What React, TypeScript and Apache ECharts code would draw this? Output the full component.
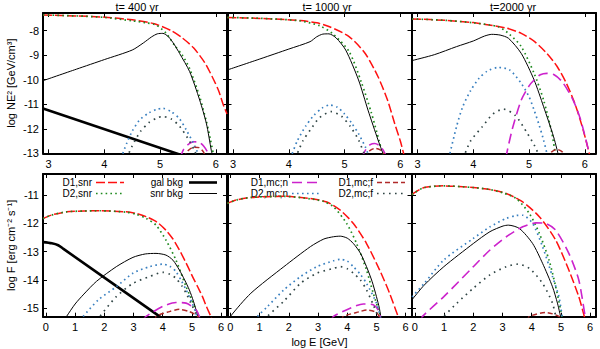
import React, { useEffect, useRef } from 'react';
import * as echarts from 'echarts';

type Pt = [number, number];

// ---------- axis ranges / labels ----------
const panelTitles = ['t= 400 yr', 't= 1000 yr', 't=2000 yr'];
const topXRange = [2.9, 6.2];
const topYRange = [-13, -7.28];
const botXRange = [-0.1, 6.2];
const botYRange = [-15.3, -10.25];
const topYName = 'log NE² [GeV/cm³]';
const botYName = 'log F [erg cm⁻² s⁻¹]';
const botXName = 'log E [GeV]';
const seriesNames = ['D1,snr', 'D2,snr', 'gal bkg', 'snr bkg', 'D1,mc;n', 'D2,mc;n', 'D1,mc;f', 'D2,mc;f'];

// ---------- top row: log NE^2 ----------
const NE400_D1snr: Pt[] = [[2.9,-7.36],[3.5,-7.4],[4.0,-7.45],[4.5,-7.56],[4.9,-7.72],[5.2,-8.0],[5.4,-8.3],[5.6,-8.7],[5.8,-9.3],[5.95,-9.95],[6.05,-10.45],[6.13,-11.0],[6.2,-11.4]];
const NE400_D2snr: Pt[] = [[2.9,-7.36],[3.5,-7.4],[4.0,-7.46],[4.5,-7.6],[4.75,-7.68],[4.93,-7.77],[5.11,-8.11],[5.26,-8.6],[5.4,-9.0],[5.53,-9.55],[5.71,-10.7],[5.83,-11.7],[5.9,-12.4],[5.97,-13.2]];
const NE400_galBkg: Pt[] = [[2.9,-11.17],[6.2,-13.7]];
const NE400_snrBkg: Pt[] = [[2.9,-10.04],[3.5,-9.57],[4.0,-9.18],[4.5,-8.79],[4.7,-8.5],[4.85,-8.25],[4.95,-8.13],[5.05,-8.11],[5.15,-8.25],[5.25,-8.55],[5.35,-8.93],[5.53,-9.67],[5.71,-10.83],[5.83,-11.78],[5.92,-12.9],[5.95,-13.2]];
const NE400_D1mcn: Pt[] = [[5.36,-13.2],[5.42,-12.85],[5.5,-12.65],[5.6,-12.53],[5.7,-12.55],[5.78,-12.7],[5.85,-12.95],[5.88,-13.2]];
const NE400_D2mcn: Pt[] = [[4.3,-13.2],[4.4,-12.6],[4.5,-12.1],[4.63,-11.65],[4.8,-11.35],[4.95,-11.2],[5.05,-11.17],[5.2,-11.3],[5.35,-11.6],[5.47,-12.05],[5.6,-12.6],[5.7,-13.1],[5.73,-13.2]];
const NE400_D1mcf: Pt[] = [[5.43,-13.2],[5.5,-12.9],[5.6,-12.75],[5.7,-12.77],[5.78,-12.95],[5.82,-13.2]];
const NE400_D2mcf: Pt[] = [[4.4,-13.2],[4.5,-12.7],[4.65,-12.1],[4.8,-11.75],[4.95,-11.55],[5.05,-11.5],[5.2,-11.6],[5.35,-11.9],[5.5,-12.4],[5.62,-12.9],[5.67,-13.2]];

const NE1000_D1snr: Pt[] = [[2.9,-7.46],[3.5,-7.5],[4.2,-7.59],[4.5,-7.68],[4.73,-7.84],[5.08,-8.24],[5.37,-8.93],[5.6,-9.88],[5.77,-10.83],[5.9,-11.8],[6.0,-12.5],[6.08,-13.2]];
const NE1000_D2snr: Pt[] = [[2.9,-7.46],[3.5,-7.5],[4.2,-7.6],[4.55,-7.8],[4.78,-8.11],[5.08,-8.85],[5.3,-10.1],[5.48,-11.35],[5.62,-12.5],[5.7,-13.2]];
const NE1000_snrBkg: Pt[] = [[2.9,-9.6],[3.5,-9.14],[4.0,-8.75],[4.38,-8.45],[4.5,-8.25],[4.61,-8.14],[4.72,-8.13],[4.85,-8.3],[5.02,-8.79],[5.25,-10.01],[5.42,-11.24],[5.6,-12.46],[5.72,-13.2]];
const NE1000_D1mcn: Pt[] = [[5.3,-13.2],[5.38,-12.85],[5.46,-12.65],[5.54,-12.6],[5.62,-12.68],[5.7,-12.9],[5.76,-13.2]];
const NE1000_D2mcn: Pt[] = [[4.03,-13.2],[4.15,-12.5],[4.3,-11.9],[4.45,-11.45],[4.6,-11.15],[4.73,-11.03],[4.87,-11.12],[5.0,-11.4],[5.13,-11.78],[5.25,-12.2],[5.37,-12.73],[5.45,-13.2]];
const NE1000_D1mcf: Pt[] = [[5.37,-13.2],[5.45,-12.9],[5.54,-12.8],[5.63,-12.85],[5.7,-13.0],[5.74,-13.2]];
const NE1000_D2mcf: Pt[] = [[4.12,-13.2],[4.25,-12.5],[4.4,-12.0],[4.55,-11.55],[4.76,-11.3],[4.95,-11.5],[5.1,-11.9],[5.25,-12.45],[5.38,-13.2]];

const NE2000_D1snr: Pt[] = [[2.9,-7.52],[3.5,-7.58],[4.0,-7.67],[4.28,-7.77],[4.6,-7.9],[4.86,-8.11],[5.1,-8.45],[5.32,-8.93],[5.5,-9.45],[5.67,-10.15],[5.8,-10.85],[5.9,-11.51],[6.0,-12.3],[6.1,-13.2]];
const NE2000_D2snr: Pt[] = [[2.9,-7.52],[3.5,-7.58],[4.0,-7.68],[4.45,-7.84],[4.65,-8.15],[4.86,-8.65],[5.09,-9.74],[5.26,-10.83],[5.41,-12.19],[5.48,-13.2]];
const NE2000_snrBkg: Pt[] = [[2.9,-9.22],[3.3,-8.98],[3.7,-8.65],[4.0,-8.42],[4.2,-8.22],[4.33,-8.15],[4.48,-8.18],[4.63,-8.31],[4.86,-8.93],[5.09,-10.01],[5.26,-11.1],[5.44,-12.33],[5.54,-13.2]];
const NE2000_D1mcn: Pt[] = [[4.58,-13.2],[4.7,-12.0],[4.86,-10.83],[5.0,-10.25],[5.09,-10.01],[5.2,-9.8],[5.32,-9.74],[5.45,-9.8],[5.6,-10.1],[5.79,-10.83],[5.92,-11.6],[6.02,-12.46],[6.1,-13.2]];
const NE2000_D2mcn: Pt[] = [[3.56,-13.2],[3.7,-11.9],[3.81,-11.1],[3.95,-10.45],[4.1,-9.95],[4.25,-9.65],[4.45,-9.5],[4.65,-9.6],[4.86,-10.15],[5.0,-10.7],[5.09,-11.24],[5.18,-11.85],[5.26,-12.46],[5.34,-13.2]];
const NE2000_D1mcf: Pt[] = [[5.3,-13.2],[5.4,-12.95],[5.5,-12.84],[5.6,-12.95],[5.68,-13.2]];
const NE2000_D2mcf: Pt[] = [[3.82,-13.2],[3.95,-12.5],[4.16,-11.92],[4.35,-11.4],[4.54,-11.2],[4.75,-11.45],[4.97,-12.19],[5.1,-12.7],[5.2,-13.2]];

// ---------- bottom row: log F ----------
const F400_D1snr: Pt[] = [[-0.1,-11.83],[0.2,-11.7],[0.7,-11.59],[1.3,-11.56],[1.84,-11.55],[2.75,-11.59],[3.1,-11.65],[3.43,-11.76],[3.8,-11.95],[4.11,-12.24],[4.35,-12.55],[4.57,-12.94],[4.8,-13.4],[5.02,-13.88],[5.2,-14.25],[5.36,-14.59],[5.5,-14.95],[5.65,-15.3],[5.7,-15.45]];
const F400_D2snr: Pt[] = [[-0.1,-11.83],[0.2,-11.7],[0.7,-11.59],[1.3,-11.56],[1.84,-11.55],[2.75,-11.6],[3.1,-11.68],[3.43,-11.82],[3.77,-12.06],[4.11,-12.59],[4.45,-13.29],[4.8,-14.24],[5.14,-15.06],[5.28,-15.45]];
const F400_galBkg: Pt[] = [[-0.1,-12.66],[0.2,-12.7],[0.42,-12.77],[0.6,-12.9],[3.89,-15.29],[4.2,-15.52]];
const F400_snrBkg: Pt[] = [[0.6,-15.45],[0.7,-15.3],[1.0,-14.85],[1.3,-14.5],[1.73,-14.05],[2.41,-13.53],[2.98,-13.2],[3.4,-13.08],[3.77,-13.06],[4.11,-13.12],[4.35,-13.3],[4.57,-13.65],[4.75,-14.0],[4.91,-14.35],[5.05,-14.75],[5.14,-15.06],[5.25,-15.45]];
const F400_D1mcn: Pt[] = [[3.3,-15.45],[3.43,-15.29],[3.99,-14.94],[4.45,-14.8],[4.8,-14.82],[5.14,-15.06],[5.25,-15.29],[5.3,-15.45]];
const F400_D2mcn: Pt[] = [[1.2,-15.45],[1.27,-15.3],[1.8,-14.7],[2.41,-14.24],[2.98,-13.76],[3.55,-13.53],[4.0,-13.44],[4.25,-13.52],[4.45,-13.7],[4.65,-14.05],[4.8,-14.35],[5.0,-14.8],[5.14,-15.18],[5.2,-15.45]];
const F400_D1mcf: Pt[] = [[3.75,-15.45],[3.77,-15.29],[4.23,-15.12],[4.57,-15.04],[4.91,-15.12],[5.2,-15.29],[5.25,-15.45]];
const F400_D2mcf: Pt[] = [[1.75,-15.45],[1.84,-15.3],[2.4,-14.6],[2.98,-14.12],[3.55,-13.88],[4.0,-13.73],[4.25,-13.8],[4.45,-13.94],[4.65,-14.2],[4.8,-14.47],[5.0,-14.9],[5.14,-15.2],[5.2,-15.45]];

const F1000_D1snr: Pt[] = [[-0.1,-11.29],[0.2,-11.17],[0.7,-11.08],[1.83,-11.04],[2.74,-11.12],[3.3,-11.24],[3.76,-11.53],[4.21,-12.0],[4.66,-12.71],[5.11,-13.65],[5.45,-14.47],[5.74,-15.29],[5.8,-15.45]];
const F1000_D2snr: Pt[] = [[-0.1,-11.29],[0.2,-11.17],[0.7,-11.08],[1.83,-11.04],[2.74,-11.13],[3.19,-11.22],[3.53,-11.41],[3.98,-12.0],[4.32,-12.71],[4.66,-13.65],[4.89,-14.47],[5.11,-15.18],[5.17,-15.45]];
const F1000_snrBkg: Pt[] = [[-0.05,-15.45],[0.0,-15.29],[0.7,-14.47],[1.83,-13.53],[2.74,-12.82],[3.2,-12.55],[3.53,-12.47],[3.76,-12.45],[4.0,-12.52],[4.21,-12.71],[4.45,-13.05],[4.66,-13.53],[4.85,-14.05],[5.0,-14.59],[5.1,-15.0],[5.17,-15.45]];
const F1000_D1mcn: Pt[] = [[3.45,-15.45],[3.53,-15.29],[4.1,-15.0],[4.55,-14.85],[4.89,-14.88],[5.05,-15.05],[5.17,-15.45]];
const F1000_D2mcn: Pt[] = [[0.85,-15.45],[0.93,-15.29],[1.27,-14.94],[1.83,-14.35],[2.4,-13.88],[2.96,-13.53],[3.53,-13.32],[3.76,-13.27],[4.0,-13.33],[4.21,-13.53],[4.45,-13.8],[4.66,-14.12],[5.0,-14.82],[5.17,-15.45]];
const F1000_D1mcf: Pt[] = [[3.8,-15.45],[3.87,-15.29],[4.43,-15.12],[4.66,-15.06],[5.0,-15.15],[5.17,-15.45]];
const F1000_D2mcf: Pt[] = [[1.2,-15.45],[1.27,-15.29],[1.83,-14.75],[2.4,-14.12],[2.96,-13.76],[3.53,-13.59],[3.76,-13.53],[4.0,-13.6],[4.21,-13.76],[4.45,-14.0],[4.66,-14.35],[4.9,-14.9],[5.11,-15.45]];

const F2000_D1snr: Pt[] = [[-0.1,-10.98],[0.0,-10.9],[0.32,-10.73],[0.99,-10.67],[2.0,-10.73],[2.57,-10.8],[3.13,-10.94],[3.69,-11.24],[4.26,-11.76],[4.82,-12.59],[5.27,-13.65],[5.61,-14.59],[5.8,-15.29],[5.85,-15.45]];
const F2000_D2snr: Pt[] = [[-0.1,-10.98],[0.0,-10.9],[0.32,-10.73],[0.99,-10.67],[2.0,-10.73],[2.57,-10.8],[3.02,-10.92],[3.47,-11.12],[3.92,-11.65],[4.26,-12.35],[4.59,-13.29],[4.82,-14.24],[4.99,-15.06],[5.06,-15.45]];
const F2000_snrBkg: Pt[] = [[-0.1,-14.7],[0.32,-14.18],[0.99,-13.53],[2.0,-12.71],[2.57,-12.29],[3.02,-12.09],[3.2,-12.06],[3.58,-12.18],[4.03,-12.71],[4.37,-13.41],[4.71,-14.24],[4.88,-14.82],[5.02,-15.45]];
const F2000_D1mcn: Pt[] = [[0.2,-15.45],[0.26,-15.29],[0.99,-14.59],[2.0,-13.53],[2.57,-12.94],[3.13,-12.47],[3.69,-12.12],[4.14,-11.98],[4.48,-12.0],[4.82,-12.24],[5.27,-13.06],[5.61,-14.0],[5.83,-15.29],[5.87,-15.45]];
const F2000_D2mcn: Pt[] = [[-0.1,-14.6],[0.32,-14.12],[0.99,-13.29],[2.0,-12.53],[2.57,-12.12],[3.13,-11.82],[3.47,-11.72],[3.69,-11.71],[4.03,-12.0],[4.37,-12.82],[4.71,-13.88],[4.93,-14.59],[5.06,-15.45]];
const F2000_D1mcf: Pt[] = [[3.85,-15.45],[3.92,-15.29],[4.48,-15.15],[4.93,-15.29],[5.0,-15.45]];
const F2000_D2mcf: Pt[] = [[0.9,-15.45],[0.99,-15.29],[1.44,-14.82],[2.0,-14.29],[2.57,-13.82],[3.13,-13.53],[3.52,-13.44],[3.92,-13.59],[4.37,-14.12],[4.71,-14.82],[4.85,-15.45]];

// ---------- panels (row, col, curves keyed by series name) ----------
const panels: { row: number; col: number; curves: Record<string, Pt[]> }[] = [
  { row: 0, col: 0, curves: { 'D1,snr': NE400_D1snr, 'D2,snr': NE400_D2snr, 'gal bkg': NE400_galBkg, 'snr bkg': NE400_snrBkg, 'D1,mc;n': NE400_D1mcn, 'D2,mc;n': NE400_D2mcn, 'D1,mc;f': NE400_D1mcf, 'D2,mc;f': NE400_D2mcf } },
  { row: 0, col: 1, curves: { 'D1,snr': NE1000_D1snr, 'D2,snr': NE1000_D2snr, 'snr bkg': NE1000_snrBkg, 'D1,mc;n': NE1000_D1mcn, 'D2,mc;n': NE1000_D2mcn, 'D1,mc;f': NE1000_D1mcf, 'D2,mc;f': NE1000_D2mcf } },
  { row: 0, col: 2, curves: { 'D1,snr': NE2000_D1snr, 'D2,snr': NE2000_D2snr, 'snr bkg': NE2000_snrBkg, 'D1,mc;n': NE2000_D1mcn, 'D2,mc;n': NE2000_D2mcn, 'D1,mc;f': NE2000_D1mcf, 'D2,mc;f': NE2000_D2mcf } },
  { row: 1, col: 0, curves: { 'D1,snr': F400_D1snr, 'D2,snr': F400_D2snr, 'gal bkg': F400_galBkg, 'snr bkg': F400_snrBkg, 'D1,mc;n': F400_D1mcn, 'D2,mc;n': F400_D2mcn, 'D1,mc;f': F400_D1mcf, 'D2,mc;f': F400_D2mcf } },
  { row: 1, col: 1, curves: { 'D1,snr': F1000_D1snr, 'D2,snr': F1000_D2snr, 'snr bkg': F1000_snrBkg, 'D1,mc;n': F1000_D1mcn, 'D2,mc;n': F1000_D2mcn, 'D1,mc;f': F1000_D1mcf, 'D2,mc;f': F1000_D2mcf } },
  { row: 1, col: 2, curves: { 'D1,snr': F2000_D1snr, 'D2,snr': F2000_D2snr, 'snr bkg': F2000_snrBkg, 'D1,mc;n': F2000_D1mcn, 'D2,mc;n': F2000_D2mcn, 'D1,mc;f': F2000_D1mcf, 'D2,mc;f': F2000_D2mcf } },
];

// ---------- styles ----------
const FONT = '"Liberation Sans", Arial, Helvetica, sans-serif';
const STYLE: Record<string, { color: string; width: number; dash: number[] | 'solid' }> = {
  'D1,snr': { color: '#ff1010', width: 1.5, dash: [9, 3] },
  'D2,snr': { color: '#1f8a1f', width: 1.7, dash: [1.6, 3.2] },
  'gal bkg': { color: '#000000', width: 2.6, dash: 'solid' },
  'snr bkg': { color: '#000000', width: 1, dash: 'solid' },
  'D1,mc;n': { color: '#cc22cc', width: 1.6, dash: [10, 5] },
  'D2,mc;n': { color: '#3a80c0', width: 1.7, dash: [1.6, 3.4] },
  'D1,mc;f': { color: '#b02a2a', width: 1.5, dash: [5, 3] },
  'D2,mc;f': { color: '#2f4444', width: 1.7, dash: [1.6, 4.4] },
};

const colLeft = [43, 227.5, 412];
const colWidth = 184;
const rowTop = [13, 174];
const rowHeight = [140.3, 142.7];

const intFmt = (v: number) => (Math.abs(v - Math.round(v)) < 1e-6 ? String(Math.round(v)) : '');

function buildOption() {
  const grid: any[] = [];
  const xAxis: any[] = [];
  const yAxis: any[] = [];
  const series: any[] = [];
  panels.forEach((p, i) => {
    grid.push({ left: colLeft[p.col], top: rowTop[p.row], width: colWidth, height: rowHeight[p.row] });
    const xr = p.row === 0 ? topXRange : botXRange;
    const yr = p.row === 0 ? topYRange : botYRange;
    const base = {
      type: 'value',
      gridIndex: i,
      splitLine: { show: false },
      axisLine: { show: true, onZero: false, lineStyle: { color: '#000', width: 2 } },
      axisTick: { show: true, inside: true, length: 4, lineStyle: { color: '#000', width: 1 } },
    };
    const lbl = { show: true, formatter: intFmt, margin: 5, fontSize: 11, color: '#000', fontFamily: FONT };
    const xs = { ...base, min: xr[0], max: xr[1], splitNumber: p.row === 0 ? 3 : 6 };
    const ys = { ...base, min: yr[0], max: yr[1], splitNumber: 5 };
    xAxis[i] = { ...xs, position: 'bottom', axisLabel: lbl };
    xAxis[6 + i] = { ...xs, position: 'top', axisLabel: { show: false } };
    const yl: any = { ...ys, position: 'left', axisLabel: { ...lbl, show: p.col === 0, margin: 4 } };
    if (p.col === 0) {
      yl.name = p.row === 0 ? topYName : botYName;
      yl.nameLocation = 'middle';
      yl.nameRotate = 90;
      yl.nameGap = 27;
      yl.nameTextStyle = { fontSize: 11, color: '#000', fontFamily: FONT };
    }
    yAxis[i] = yl;
    yAxis[6 + i] = { ...ys, position: 'right', axisLabel: { show: false } };
    if (p.row === 1 && p.col === 1) {
      xAxis[i].name = botXName;
      xAxis[i].nameLocation = 'middle';
      xAxis[i].nameGap = 20;
      xAxis[i].nameTextStyle = { fontSize: 11, color: '#000', fontFamily: FONT };
    }
    seriesNames.forEach((name) => {
      const d = p.curves[name];
      if (!d) return;
      const st = STYLE[name];
      series.push({
        type: 'line',
        name,
        xAxisIndex: i,
        yAxisIndex: i,
        data: d,
        showSymbol: false,
        symbol: 'none',
        smooth: 0.25,
        clip: true,
        lineStyle: { color: st.color, width: st.width, type: st.dash },
      });
    });
  });

  // key (legend) drawn gnuplot-style: right-justified text followed by sample
  const keyItems = [
    { name: 'D1,snr', tx: 92, y: 182.5, lx: 96 },
    { name: 'D2,snr', tx: 92, y: 193.5, lx: 96 },
    { name: 'gal bkg', tx: 183, y: 182.5, lx: 189 },
    { name: 'snr bkg', tx: 183, y: 193.5, lx: 189 },
    { name: 'D1,mc;n', tx: 288, y: 182.5, lx: 292 },
    { name: 'D2,mc;n', tx: 288, y: 193.5, lx: 292 },
    { name: 'D1,mc;f', tx: 373, y: 182.5, lx: 377 },
    { name: 'D2,mc;f', tx: 373, y: 193.5, lx: 377 },
  ];
  const graphic: any[] = [];
  keyItems.forEach((k) => {
    const st = STYLE[k.name];
    graphic.push({
      type: 'text', x: k.tx, y: k.y,
      style: { text: k.name, font: `10px ${FONT}`, fill: '#000', textAlign: 'right', align: 'right', textVerticalAlign: 'middle', verticalAlign: 'middle' },
    });
    graphic.push({
      type: 'line',
      shape: { x1: k.lx, y1: k.y, x2: k.lx + 28, y2: k.y },
      style: { stroke: st.color, lineWidth: st.width, lineDash: st.dash === 'solid' ? null : st.dash },
    });
  });
  const titleX = [137, 327, 513];
  panelTitles.forEach((t, c) => {
    graphic.push({
      type: 'text', x: titleX[c], y: 7,
      style: { text: t, font: `11px ${FONT}`, fill: '#000', textAlign: 'center', align: 'center', textVerticalAlign: 'middle', verticalAlign: 'middle' },
    });
  });

  return { animation: false, backgroundColor: '#fff', grid, xAxis, yAxis, series, graphic };
}

export default function App() {
  const ref = useRef<HTMLDivElement>(null);
  useEffect(() => {
    if (!ref.current) return;
    const chart = echarts.init(ref.current, undefined, { renderer: 'svg' });
    chart.setOption(buildOption() as any);
    return () => chart.dispose();
  }, []);
  return <div ref={ref} style={{ position: 'fixed', left: 0, top: 0, width: 600, height: 349 }} />;
}
